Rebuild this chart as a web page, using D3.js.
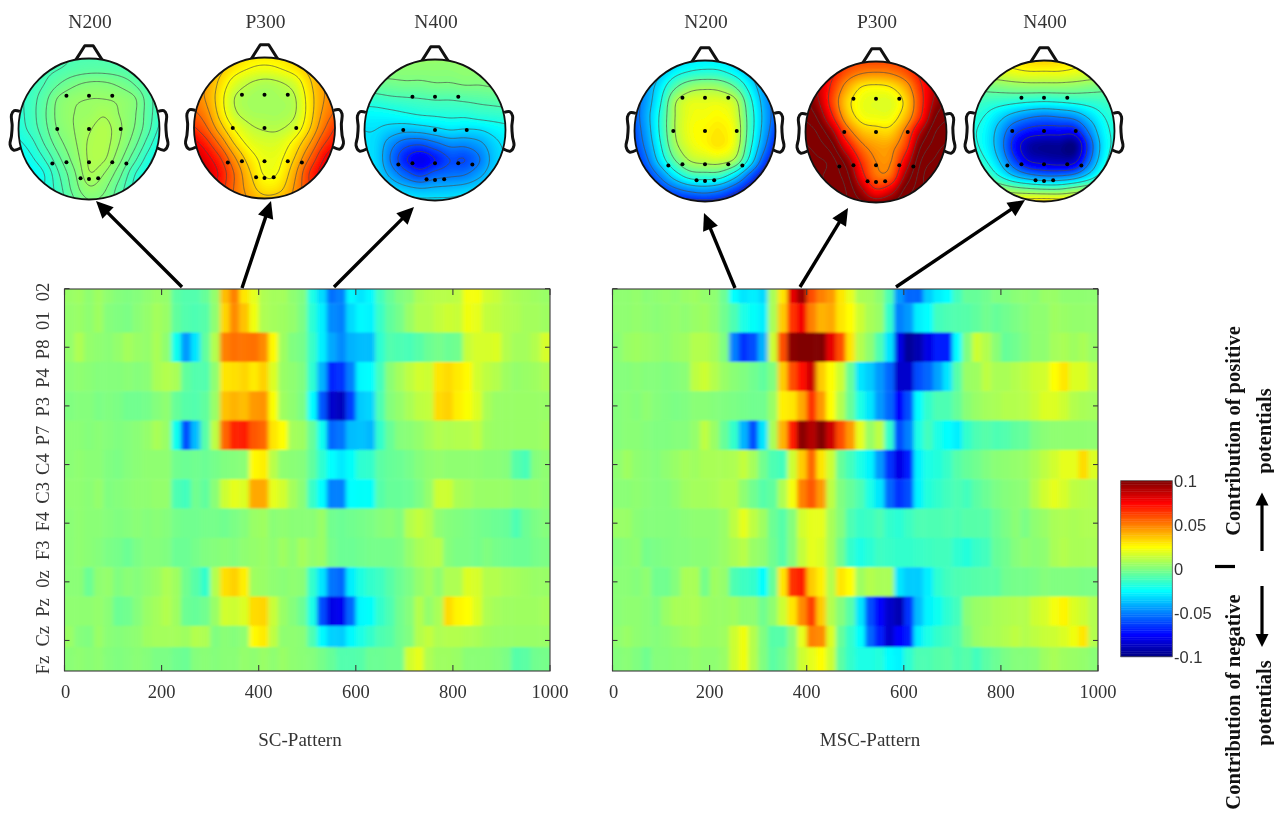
<!DOCTYPE html>
<html><head><meta charset="utf-8">
<script src="https://cdn.jsdelivr.net/npm/d3@7/dist/d3.min.js"></script>
<style>html,body{margin:0;background:#fff}svg{display:block;filter:blur(.4px)}
text{font-family:"Liberation Serif",serif;fill:#333}</style></head>
<body><svg id="c" width="1274" height="815"></svg>
<script>
// Channel labels, top to bottom
const channels=["02","01","P8","P4","P3","P7","C4","C3","F4","F3","0z","Pz","Cz","Fz"];
const xTicks=[0,200,400,600,800,1000];
const barTicks=[10,5,0,-5,-10];
const barLabels=["0.1","0.05","0","-0.05","-0.1"];
const mapTitles=["N200","P300","N400"];
// Heatmap values in units of 0.01, one column per 20 ms
const sc02=[.5,.6,.3,.6,.3,.1,0,.1,.3,.5,.4,-.7,-.9,-.9,-.5,.4,3.8,5,3,2,.9,.7,.7,.3,0,-2,-3.2,-5.3,-5,-2.6,-3,-2.6,-1.2,-.5,0,.2,.8,1,1.1,1.1,1.2,2.3,2.3,1.6,1.4,1,.8,.7,.6,.5];
const sc01=[.4,.5,.3,.6,.1,0,-.1,.2,.4,.7,.5,-.6,-.9,-1,-.8,.3,3.3,4.8,3.7,2.2,.9,.7,.6,.4,-.1,-1.7,-2.8,-4.8,-5,-3.2,-2.6,-2.7,-1.4,-.6,-.2,.5,1,1,1.3,1.5,1.4,2.2,2,1.3,1.2,1,.9,.7,.7,.6];
const scP8=[.4,.9,.4,.3,.2,.4,.7,.5,.4,.8,.3,-2.2,-4.5,-3,-.6,1,5,5.3,5.2,5.3,4.8,2.6,.6,0,-.2,-1.4,-2.8,-4.2,-4.8,-4,-3.8,-3.8,-1.6,-.9,-1,-1.1,-.8,-.4,-.2,-.4,-.3,1.4,1.7,1.7,1.8,1,.7,.7,1,1.7];
const scP4=[.2,.3,.2,.1,.1,.1,.2,.1,.2,.8,1,.8,-.6,-.9,-.9,.3,3,3.1,3.3,2.9,3.4,1.8,.5,.3,0,-1.6,-4,-6.8,-6.5,-5,-2.6,-2.5,-1.2,.2,.7,1.2,1.6,1.5,3,3.2,2.9,2.6,1.6,1.2,1,.6,.4,.5,.6,.8];
const scP3=[0,.1,.1,-.1,0,-.1,-.3,-.3,-.2,.1,.3,-.5,-.8,-.9,-.6,.5,3.7,4,3.8,4.5,4.6,2.4,.6,.3,-.1,-2.5,-5.8,-8.5,-8.8,-6.3,-3.5,-3.3,-1,.1,.4,.8,1.2,1.3,3.2,3.4,2.8,2.4,1.8,.8,.5,.5,.5,.5,.5,.5];
const scP7=[.2,.2,.1,.2,.1,0,.1,.2,.4,.8,.5,-2.2,-6,-3.8,-.8,1.2,5.5,6.8,6.9,5.8,5.5,3,2.5,.7,.6,-.5,-2.2,-5.5,-5.2,-3.8,-3.7,-3.9,-1.5,-.5,.1,.2,.4,.7,1,.9,1,1,1.2,.6,.5,.5,.5,.5,.5,.6];
const scC4=[.2,.3,.2,.2,0,-.1,.1,.2,.3,.3,.3,-.3,-.4,-.3,-.4,-.2,0,.1,.2,2.6,2.8,1.1,.3,.2,.1,-.6,-1.6,-2.5,-2.9,-2.4,-1.6,-1.5,-.7,-.5,-.4,-.2,.1,.3,.4,.3,.3,.3,.3,.2,.2,.1,-.8,-1.1,.1,.3];
const scC3=[.3,.3,.2,.4,0,.1,.2,.3,.3,.4,.4,-1,-1.2,-.3,-.6,.2,1.5,2,1.8,4.2,4.2,2,1.6,.7,.2,-1.4,-2.5,-5,-5,-2.5,-2.4,-2.4,-.8,-.5,-.5,-.4,-.1,.4,1.5,1.5,.8,.7,.5,.5,.5,.5,.3,.3,.4,.3];
const scF4=[.2,.3,.2,.2,.1,0,.1,.2,.1,.2,.1,-.2,-.3,-.3,-.2,-.2,-.3,-.1,.1,.5,.6,.2,.3,.2,.2,.2,.5,-.3,-.4,-.3,-.2,-.1,.1,.2,0,1,1.3,1,.3,.1,0,-.1,-.2,-.3,-.4,-.5,-1,-.4,-.1,.1];
const scF3=[.2,.3,.2,.1,-.1,-.2,-.4,-.1,.1,.1,0,-.4,-.4,-.2,0,.1,.2,.1,.3,.4,.5,.3,.6,.3,.7,.4,.5,-.2,-.4,-.4,-.3,-.2,-.2,-.2,-.1,.4,.8,1,1.1,.1,-.1,-.1,-.2,0,-.2,-.3,-.4,-.4,-.2,-.1];
const scOz=[.2,.2,-.4,.3,.4,0,.2,.1,.3,.5,.9,.6,-.3,-.8,-1.5,1,3.1,3.4,2.8,.6,.5,.3,.2,.3,.2,-1.5,-3,-5.2,-5.5,-2.8,-1.9,-1.5,-1.3,-.8,-.4,-.1,.4,.7,.3,.9,.9,1.8,1.7,1,1,.8,.7,.6,.5,.5];
const scPz=[.3,.3,.3,.4,.2,-.4,-.3,.1,.5,.7,1,.6,-.4,-.5,-.3,.5,1.6,1.5,1.8,3.2,3.3,1.4,.5,.1,-.4,-2,-6,-8,-7.8,-5.5,-2.6,-2.4,-1.5,-1,-.3,.1,1,.4,.8,3.2,2.7,2.5,1.8,.9,.7,.6,.6,.6,.6,.7];
const scCz=[.5,.1,0,.5,.2,.1,.2,.3,.6,.7,.7,.7,.6,1,.9,0,.2,.1,.3,2.6,2.9,1.2,.3,.3,.2,-1,-2.6,-3.4,-3.5,-2.6,-2,-1.5,-1,-.8,-.3,0,1,1.3,.9,1,1,.9,.8,.6,.5,.5,.5,.5,.5,.5];
const scFz=[.2,.3,.2,.3,.1,0,.1,.2,.1,-.1,-.1,-.3,-.4,.1,.2,.1,.2,.2,.4,.3,.5,.3,.5,.3,.2,.1,-.2,-.5,-.9,-.9,-.8,-.4,-.4,-.3,-.3,1.6,2,.9,.6,.6,.5,.2,.2,.2,.1,-.1,-.8,-.7,-.3,-.2];
const msc02=[.3,.3,.4,.2,.3,.4,.3,.5,.6,.4,.3,-.4,-2.5,-3,-2.8,-3.2,.8,3,8,9.5,6,5,4.5,3,2,.8,.7,.3,-1,-4.5,-5.5,-5.5,-3.5,-2.8,-2.5,-1.2,-.5,-.5,-.3,0,0,.2,.3,.2,.5,.5,.3,.3,.3,.3];
const msc01=[.3,.3,.4,.3,.2,.3,.4,.3,.5,.6,.3,-.3,-1,-2,-2.4,-2.8,.8,3.5,6.5,7.7,5,4,4.2,3,2.5,1.5,.8,.5,-1.5,-5,-4.5,-2.8,-2.5,-1.2,-1,-.9,-.8,-.6,-.3,-.5,-.3,-.1,.1,.3,.3,.6,.5,.4,.4,.4];
const mscP8=[.2,.5,.6,.5,.4,.3,.5,.6,1,1,.7,0,-5,-6.5,-6,-4,1.5,6,9.8,10,10,10,8,6,3,1,.3,-1,-3,-8,-9.5,-9,-8,-7,-7,-2.5,0,1.5,1,.2,-.5,-.3,0,.3,.3,.7,.8,.6,.8,.5];
const mscP4=[.1,.1,.2,.1,.1,0,.1,.2,1.2,1.5,1,.5,.2,0,-.3,-.6,0,3.5,6,7.2,8.5,3.5,2.5,1.5,-.5,-3,-3.5,-4.5,-5.5,-8.5,-8.5,-6,-5.5,-4.3,-3,-.8,.5,.6,1.2,.8,.8,1,1.2,1.5,1.6,2.5,3,1.8,1.8,1.2];
const mscP3=[.1,.2,.1,.3,.1,0,-.1,0,.2,.2,.1,0,-.1,-.2,-.3,-.3,.5,2.8,3,4.2,6.5,4.5,2.5,1,-.5,-2,-3,-4.5,-5.5,-7.5,-6,-2.5,-1.5,-1,-1,-.5,.2,.5,.7,.8,1,1,1.1,1.4,1.8,1.8,1.5,1,.8,.7];
const mscP7=[.1,.2,.2,.1,0,0,.1,.1,.4,1.2,.5,-.5,-1.5,-4,-6,-3,.8,4,7,9.8,9,10,8.5,6,4.5,2,.5,1.2,-1.5,-6,-5,-2,-1.2,-2,-2.5,-2.8,-1.5,-1,-.8,-1,-.9,-.6,-.5,0,.2,.3,.3,.3,.3,.3];
const mscC4=[.3,.6,.3,.2,.1,.3,.5,.7,.6,.8,.8,.8,.9,1.3,.7,-.3,-1,-1.2,1.5,3.5,5.5,3,1.5,-.5,-1.2,-2,-2.7,-4.5,-6.5,-8,-7,-2.7,-2,-1.8,-1.4,-.8,-.5,-.3,0,.2,.3,.4,.5,.8,1.2,1.6,2,2,3.2,1.8];
const mscC3=[.2,.2,.3,.2,.1,.1,.3,.6,.7,.7,.8,1,1,.3,-.3,-.8,-.6,.9,2.3,5,5.8,4.5,1.2,0,-.5,-1,-2,-3,-5.5,-6.5,-6,-2.7,-1.8,-1.5,-1.2,-1,-1.2,-.7,-.4,-.1,.1,.2,.3,1,1.6,2,1.7,1.2,1.1,1];
const mscF4=[.5,.5,.2,.1,.1,.1,.1,.2,.3,.3,.3,.5,1.2,2,1.2,.6,-.4,-.8,.1,1.6,2,2,.8,.1,-1,-1.4,-1.3,-1,-1.5,-1.7,-1.3,-1,-1,-1,-.9,-1,-.8,-.8,-.8,-.4,-.1,.2,-.1,.3,.5,.8,.9,.8,.9,.9];
const mscF3=[.1,.2,.3,-.2,-.1,0,.1,.1,.2,.2,.3,.5,.8,1.1,.5,.3,-.3,-.8,.1,1.3,2,1.8,.8,-.3,-1.5,-2,-1.7,-1.3,-1.4,-1.5,-1.5,-1.4,-1.3,-1.2,-1.2,-1.6,-1.8,-1.4,-1.2,-.5,-.3,.1,.3,.2,.3,.8,1,.8,.8,.8];
const mscOz=[.2,.2,.1,.3,-.3,-.3,.1,.8,.8,-.2,.6,.4,-1,-1.3,-1.5,-2.5,-.5,3,6.5,7,3.5,2.8,1,3,2.5,.6,1,.8,.8,-3,-3.5,-3.5,-2.8,-1.6,-1.2,-1,-.9,-.8,-.7,-.7,-.3,-.2,-.2,-.1,.1,0,0,0,-.1,-.1];
const mscPz=[.2,.3,.3,.2,0,.5,.8,.8,.9,.6,.5,.5,.6,.3,.3,-.3,.3,1.5,3,4.8,6.3,3.5,1,.1,-.8,-3,-6,-7.5,-8.5,-9,-6.5,-3.8,-2.7,-2.2,-1.6,-1.2,.2,.5,.6,.8,.9,1,1,1.5,1.7,2.3,2.7,1.8,1.5,1];
const mscCz=[.3,.5,.3,.2,.1,.2,.4,.6,.7,.5,.5,.6,1.5,2.2,1,0,-.8,-.8,.2,2,5,4.8,1.8,-.5,-1.5,-2.5,-5.5,-7,-8.5,-7.5,-7,-2.8,-2,-1.5,-1.2,-.9,0,.5,.7,.8,1,1.2,1,1.2,1.4,1.5,1.8,2.2,3,1];
const mscFz=[.1,.2,0,-.3,.1,.1,.2,.2,.4,.3,.3,.5,1.5,2.2,1,0,-.7,-.4,.3,1.5,2,2.5,1.5,-.7,-1.5,-2,-2,-1.8,-2.5,-2.7,-1.6,-1,-1,-.8,-.7,-1,-.8,-1.2,-.7,-.4,-.1,.1,.1,.2,.6,.8,.6,.5,.4,.2];
const scRows=[sc02,sc01,scP8,scP4,scP3,scP7,scC4,scC3,scF4,scF3,scOz,scPz,scCz,scFz];
const mscRows=[msc02,msc01,mscP8,mscP4,mscP3,mscP7,mscC4,mscC3,mscF4,mscF3,mscOz,mscPz,mscCz,mscFz];
// Scalp maps: 11 x 11 readings across the head, units of 0.01
const scN200=[[-2,-2,-1.5,-1.2,-1,-1,-1,-1.2,-1.5,-2,-2],[-2,-1.5,-1.2,-1,-.8,-.7,-.7,-.8,-1,-1.4,-2],[-2,-1.4,-1,-.5,-.1,.1,.1,-.1,-.5,-1.1,-1.7],[-1.8,-1.3,-.7,.1,.4,.5,.5,.4,.1,-.8,-1.5],[-1.8,-1.3,-.6,.2,.5,.6,.8,.5,.1,-.8,-1.5],[-1.9,-1.4,-.7,.1,.5,.8,1,.6,0,-.9,-1.8],[-2.2,-1.8,-1,-.2,.4,.9,1,.5,-.3,-1.3,-2.2],[-2.6,-2.2,-1.5,-.6,.2,.9,.9,.2,-.8,-1.8,-2.6],[-2.8,-2.6,-2,-1,-.1,.8,.5,-.3,-1.4,-2.2,-2.8],[-2.8,-2.6,-2,-1.2,-.3,.4,.1,-.7,-1.6,-2.4,-2.8],[-2.5,-2.5,-2,-1.3,-.6,-.1,-.2,-.8,-1.5,-2.3,-2.8]];
const scP300=[[5,4.5,4,3.5,3,3,3,3.5,4,4.5,5],[5,4.5,3.8,3,2.5,2.3,2.5,3,3.8,4.5,5],[5,4.5,3.3,2,1.3,1,1.2,1.8,3.3,4.5,5],[5.3,4.5,3,1.3,.8,.7,.8,1.2,3,4.5,5.3],[5.8,5,3.2,1.5,.9,.8,.8,1.2,3,4.8,5.8],[6.8,5.8,4,2.4,1.5,1.2,1.2,1.8,3.4,5.4,6.8],[8,7,5.3,3.4,2.2,1.8,1.9,2.8,4.4,6.4,7.5],[9,8,6.6,4.6,3,2.2,2.3,3.5,5.5,7.5,8.5],[9,8.5,7.3,5.4,3.6,2.4,2.6,4.2,6.5,8,8.5],[8.5,8,7,5.4,4,3,3.2,4.6,6.4,7.5,8],[8,7.5,6.5,5.2,4.5,4,4.2,4.8,6,7,7.5]];
const scN400=[[.5,.5,.5,.5,.5,.5,.5,.5,.5,.5,.5],[.2,.3,.3,.3,.3,.3,.3,.4,.4,.5,.5],[-.5,-.4,-.3,-.2,-.2,-.1,-.1,0,0,.1,.1],[-1.6,-1.5,-1.3,-1.2,-1.1,-1,-1,-.9,-.8,-.7,-.6],[-2.5,-2.5,-2.4,-2.2,-2,-1.9,-1.8,-1.8,-1.6,-1.5,-1.4],[-3,-3,-3.4,-3.7,-3.6,-3.3,-3,-3.1,-3,-2.6,-2.3],[-3,-3.2,-4.6,-5.7,-6,-5.4,-4.8,-4.8,-4.3,-3.3,-2.7],[-3,-3.2,-5,-6.8,-7.8,-7,-6,-6,-5,-3.5,-2.8],[-2.8,-3,-4.2,-5.4,-6.2,-5.5,-5.2,-5,-4.2,-3.2,-2.6],[-2.3,-2.5,-3,-3.5,-3.8,-3.7,-3.6,-3.4,-3,-2.5,-2],[-1.8,-2,-2.2,-2.4,-2.6,-2.6,-2.6,-2.4,-2.2,-1.9,-1.7]];
const mscN200=[[-6,-5.5,-4.5,-3.6,-3,-2.8,-2.9,-3.6,-4.5,-5.5,-6],[-6,-5,-3.8,-2.6,-2,-1.8,-1.9,-2.6,-3.8,-5,-6],[-6,-4.6,-2.8,-.8,.3,.6,.4,-.6,-2.6,-4.6,-6],[-6,-4.4,-2.2,.8,1.9,2,2,1.3,-1.6,-4.2,-6],[-6,-4.2,-1.8,1,2.2,2.4,2.6,1.8,-1.2,-4,-6],[-6.2,-4.4,-1.8,1,2.3,2.7,3,2.1,-1.2,-4.2,-6.5],[-6.5,-4.8,-2.2,.6,2,2.6,3,1.9,-1.6,-4.8,-7.5],[-7,-5.5,-3,-.6,1,1.4,1.5,.6,-2.6,-6,-8],[-7.5,-6.5,-4.8,-2.8,-1.4,-1.2,-1.4,-3,-5.5,-7.5,-8.5],[-8,-7.5,-6.5,-5.5,-4.8,-4.5,-5,-6.2,-7.5,-8.5,-9],[-8,-8,-8,-7.5,-7.5,-7.5,-7.5,-8,-8.5,-9,-9]];
const mscP300=[[9,8.5,8,7,6.5,6.5,6.5,7,8,8.5,9],[10,9,7.5,6,5.2,5,5.2,6,7.5,9,10],[10.5,9,6.8,4.5,3,2.7,3,4.3,6.8,9,10.5],[11,9.5,6.5,3.6,2.3,2,2,3.4,6.5,9.5,11],[11.5,10.5,7.5,4.2,2.6,2.3,2.4,4,7,10.5,11.5],[12,11.5,9.5,6,4,3.5,3.5,5.5,9,11.5,12],[12.5,12,11,8,5.5,4.5,4.6,6.5,10.5,12,12.5],[13,12.5,12,10,6.8,5,5,8,11.5,12.5,13],[13,12.5,12,11,7.8,5.5,5.8,9.5,12,13,13],[13,12.5,12,11.5,9.5,7.5,8.5,11,12,13,13],[13,12.5,12,11.5,11,10.5,11,11.5,12,13,13]];
const mscN400=[[1.5,2,2.5,3,3.5,3.8,3.5,3,2.5,2,1.5],[1.5,1.8,2,2.3,2.5,2.5,2.5,2.3,2,1.8,1.5],[-.2,0,.2,.4,.5,.5,.5,.4,.2,0,-.2],[-1,-1.2,-1.4,-1.6,-1.8,-1.9,-1.8,-1.6,-1.4,-1.2,-1],[-1.5,-2,-3,-4,-4.7,-5,-4.8,-4.4,-3.2,-2,-1.4],[-1.8,-2.4,-4,-6,-7,-7.3,-7.3,-7.2,-4.8,-2.5,-1.6],[-1.6,-2.4,-4.2,-7,-9,-9.5,-9.5,-9.8,-6,-2.8,-1.5],[-1,-1.8,-3.5,-6,-8,-8.5,-8.8,-8.5,-5.3,-2.4,-1],[0,-.6,-2,-3.5,-4.5,-5,-5,-4.5,-3,-1.2,-.2],[2,1.5,1,.5,.2,0,0,.5,1,1.5,2],[3.2,3.2,3.4,3.7,4,4.2,4,3.4,3.2,3,2.8]];
// Contour levels per map
const levelsScN200=[-2.5,-2,-1.5,-1,-.5,0,.5,.85];
const levelsScP300=[1.3,2.5,3.5,4.5,5.5,6.5,7.5];
const levelsScN400=[-7,-6,-5,-4,-3,-2,-1,0];
const levelsMscN200=[-8,-6.5,-5,-3.5,-2,-.5,1];
const levelsMscP300=[3,5,7,9,10.5,11.5,12.3];
const levelsMscN400=[-8,-6.5,-5,-3.5,-2,-.5,1,2.5];
// Electrode positions in head units (x right, y down)
const electrodeX=[-.32,0,.33,-.45,0,.45,-.52,-.32,0,.33,.53,-.12,0,.13];
const electrodeY=[-.47,-.47,-.47,0,0,0,.49,.47,.47,.47,.49,.7,.71,.7];

[...scRows,...mscRows].forEach((r,i)=>{if(r.length!==50)throw new Error("row "+i+" len "+r.length)});

const svg=d3.select("#c");
const defs=svg.append("defs");
defs.append("filter").attr("id","bh").attr("x","-5%").attr("y","-5%").attr("width","110%").attr("height","110%")
  .append("feGaussianBlur").attr("stdDeviation","2.1 0.8");
defs.append("filter").attr("id","bs").attr("x","-5%").attr("y","-5%").attr("width","110%").attr("height","110%")
  .append("feGaussianBlur").attr("stdDeviation","0.45");
const jet=d3.scaleLinear().domain([-10,-7.5,-2.5,0,2.5,7.5,10])
  .range(["#000080","#0000ff","#00ffff","#80ff80","#ffff00","#ff0000","#800000"]).clamp(true);
const ink="#3a3a3a";

function heat(rows,x0,x1,id,labels){
  const x=d3.scaleLinear().domain([0,1000]).range([x0,x1]);
  const top=289,bot=671;
  const y=d3.scaleLinear().domain([0,13]).range([288.6,669.8]);
  const h=y(1)-y(0);
  defs.append("clipPath").attr("id",id).append("rect").attr("x",x0).attr("y",top).attr("width",x1-x0).attr("height",bot-top);
  const g=svg.append("g").attr("clip-path",`url(#${id})`).append("g").attr("filter","url(#bh)");
  rows.forEach((r,j)=>{
    g.selectAll(null).data(r).enter().append("rect")
     .attr("x",(d,i)=>x(i*20)-(i===0?8:0))
     .attr("width",(d,i)=>x(20)-x(0)+.4+(i===0||i===49?8:0))
     .attr("y",y(j)-h/2-(j===13?8:0)).attr("height",h+.4+(j===13?8:0))
     .attr("fill",d=>jet(d));
  });
  svg.append("rect").attr("x",x0).attr("y",top).attr("width",x1-x0).attr("height",bot-top)
    .attr("fill","none").attr("stroke",ink).attr("stroke-width",1.1);
  const ag=svg.append("g").attr("stroke",ink).attr("stroke-width",1.1);
  xTicks.forEach(t=>{
    ag.append("line").attr("x1",x(t)).attr("x2",x(t)).attr("y1",bot).attr("y2",bot-6);
    ag.append("line").attr("x1",x(t)).attr("x2",x(t)).attr("y1",top).attr("y2",top+6);
    svg.append("text").attr("x",x(t)+(t===0?1:0)).attr("y",698).attr("text-anchor","middle").attr("font-size",18.5).text(t);
  });
  d3.range(0,14,2).forEach(j=>{
    ag.append("line").attr("x1",x0).attr("x2",x0+5).attr("y1",y(j)).attr("y2",y(j));
    ag.append("line").attr("x1",x1).attr("x2",x1-5).attr("y1",y(j)).attr("y2",y(j));
  });
  if(labels){
    const ly=d3.scaleLinear().domain([0,13]).range([292,665]);
    channels.forEach((c,j)=>{
      svg.append("text").attr("transform",`translate(49,${ly(j)}) rotate(-90)`).attr("text-anchor","middle").attr("font-size",18.5).text(c);
    });
  }
}
heat(scRows,64.5,550,"clipA",true);
heat(mscRows,612.5,1098,"clipB",false);
svg.append("text").attr("x",300).attr("y",746).attr("text-anchor","middle").attr("font-size",19).text("SC-Pattern");
svg.append("text").attr("x",870).attr("y",746).attr("text-anchor","middle").attr("font-size",19).text("MSC-Pattern");

function catmull(p0,p1,p2,p3,t){return .5*((2*p1)+(-p0+p2)*t+(2*p0-5*p1+4*p2-p3)*t*t+(-p0+3*p1-3*p2+p3)*t*t*t);}
function upsample(grid,N){
  const n=grid.length,out=new Float64Array(N*N);
  const g=(r,c)=>grid[Math.max(0,Math.min(n-1,r))][Math.max(0,Math.min(n-1,c))];
  for(let j=0;j<N;j++)for(let i=0;i<N;i++){
    const fy=j/(N-1)*(n-1),fx=i/(N-1)*(n-1);
    const r=Math.min(n-2,Math.floor(fy)),c=Math.min(n-2,Math.floor(fx)),ty=fy-r,tx=fx-c;
    const v=[-1,0,1,2].map(dr=>catmull(g(r+dr,c-1),g(r+dr,c),g(r+dr,c+1),g(r+dr,c+2),tx));
    out[j*N+i]=catmull(v[0],v[1],v[2],v[3],ty);
  }
  return out;
}
let mapId=0;
function head(grid,levels,cx,cy,title){
  const R=70.5,N=121,id="hc"+(mapId++);
  const sx=d3.scaleLinear().domain([-1,1]).range([cx-R,cx+R]);
  const sy=d3.scaleLinear().domain([-1,1]).range([cy-R,cy+R]);
  svg.append("text").attr("x",cx+1).attr("y",28).attr("text-anchor","middle").attr("font-size",19.5).text(title);
  const g=svg.append("g");
  const line=d3.line().curve(d3.curveCatmullRom).x(d=>sx(d[0])).y(d=>sy(d[1]));
  [-1,1].forEach(s=>{
    g.append("path").attr("d",line([[s*.98,-.25],[s*1.06,-.26],[s*1.1,-.2],[s*1.09,-.05],[s*1.1,.1],[s*1.12,.22],[s*1.07,.3],[s*.97,.27]]))
     .attr("fill","#fff").attr("stroke","#111").attr("stroke-width",3);
  });
  g.append("path").attr("d",d3.line().x(d=>sx(d[0])).y(d=>sy(d[1]))([[-.2,-.96],[-.06,-1.18],[.06,-1.18],[.2,-.96]]))
    .attr("fill","#fff").attr("stroke","#111").attr("stroke-width",3).attr("stroke-linejoin","round");
  defs.append("clipPath").attr("id",id).append("circle").attr("cx",cx).attr("cy",cy).attr("r",R);
  const vals=upsample(grid,N);
  const span=R*2*1.06, s=span/(N-1);
  const proj=d3.geoPath(d3.geoIdentity().scale(s).translate([cx-span/2-s*.5,cy-span/2-s*.5]));
  const mn=d3.min(vals),mx=d3.max(vals);
  const th=d3.range(mn,mx,(mx-mn)/70);
  const cg=svg.append("g").attr("clip-path",`url(#${id})`);
  const fg=cg.append("g").attr("filter","url(#bs)");
  fg.append("circle").attr("cx",cx).attr("cy",cy).attr("r",R+1).attr("fill",jet(mn));
  fg.selectAll(null).data(d3.contours().size([N,N]).thresholds(th)(vals)).enter().append("path")
    .attr("d",proj).attr("fill",d=>jet(d.value));
  cg.selectAll(null).data(d3.contours().size([N,N]).thresholds(levels)(vals)).enter().append("path")
    .attr("d",proj).attr("fill","none").attr("stroke","#4a4a4a").attr("stroke-opacity",.75).attr("stroke-width",.9);
  svg.append("circle").attr("cx",cx).attr("cy",cy).attr("r",R).attr("fill","none").attr("stroke","#111").attr("stroke-width",1.8);
  svg.selectAll(null).data(electrodeX).enter().append("circle")
    .attr("cx",d=>sx(d)).attr("cy",(d,i)=>sy(electrodeY[i])).attr("r",2).attr("fill","#000");
}
head(scN200,levelsScN200,89,129,mapTitles[0]);
head(scP300,levelsScP300,264.5,128,mapTitles[1]);
head(scN400,levelsScN400,435,130,mapTitles[2]);
head(mscN200,levelsMscN200,705,131,mapTitles[0]);
head(mscP300,levelsMscP300,876,132,mapTitles[1]);
head(mscN400,levelsMscN400,1044,131,mapTitles[2]);

function arrow(x1,y1,x2,y2,w=3.4,L=17,H=8){
  const a=Math.atan2(y2-y1,x2-x1),ca=Math.cos(a),sa=Math.sin(a);
  svg.append("line").attr("x1",x1).attr("y1",y1).attr("x2",x2-ca*L*.8).attr("y2",y2-sa*L*.8).attr("stroke","#000").attr("stroke-width",w);
  svg.append("polygon").attr("fill","#000").attr("points",[
    [x2,y2],[x2-ca*L-sa*H,y2-sa*L+ca*H],[x2-ca*L+sa*H,y2-sa*L-ca*H]].map(p=>p.join(",")).join(" "));
}
arrow(182,287,96,201);arrow(242,288,271,201);arrow(334,287,414,207);
arrow(735,288,704,213);arrow(800,287,848,208);arrow(896,287,1025,200);

// Colour bar
const by=d3.scaleLinear().domain([-10,10]).range([656.7,480.7]);
svg.append("g").selectAll(null).data(d3.range(-10,10,.2)).enter().append("rect")
  .attr("x",1120.7).attr("width",51.6).attr("y",d=>by(d+.2)).attr("height",d=>by(d)-by(d+.2)+.4).attr("fill",d=>jet(d+.1));
svg.append("rect").attr("x",1120.7).attr("y",480.7).attr("width",51.6).attr("height",176).attr("fill","none").attr("stroke","#555").attr("stroke-width",.8);
barTicks.forEach((t,i)=>{
  svg.append("text").attr("x",1174).attr("y",by(t)+6).attr("font-size",16.5).style("font-family","'Liberation Sans',sans-serif").text(barLabels[i]);
});
function vtext(x,y,t){svg.append("text").attr("transform",`translate(${x},${y}) rotate(-90)`).attr("text-anchor","middle").attr("font-size",20.5).attr("font-weight","bold").style("fill","#111").text(t);}
vtext(1240,431,"Contribution of positive");
vtext(1271,431,"potentials");
vtext(1240,702,"Contribution of negative");
vtext(1271,703,"potentials");
svg.append("line").attr("x1",1215).attr("x2",1235).attr("y1",566.5).attr("y2",566.5).attr("stroke","#000").attr("stroke-width",3.2);
arrow(1262,551,1262,492.5,3.2,13,6.5);
arrow(1262,586,1262,647,3.2,13,6.5);
</script></body></html>
